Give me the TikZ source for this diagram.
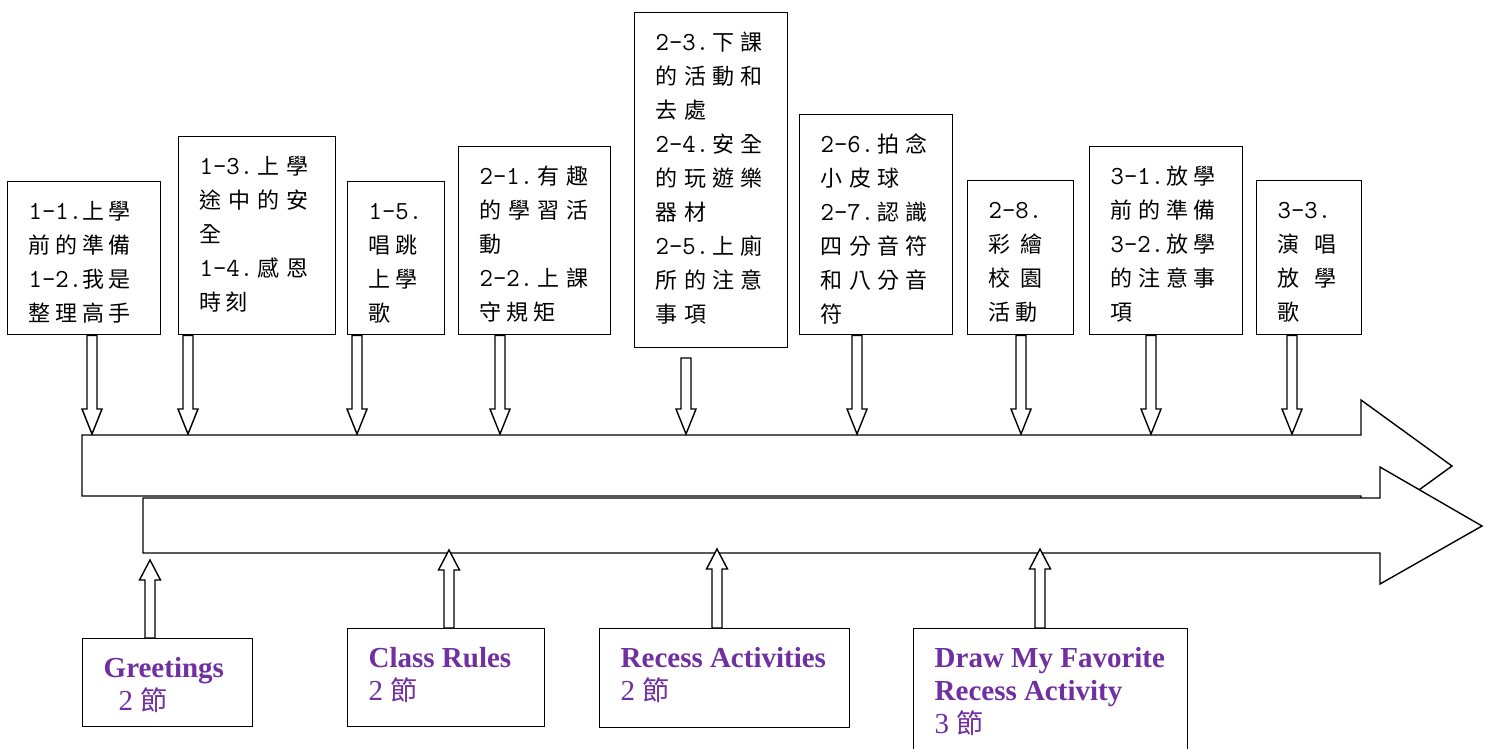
\documentclass[tikz,border=0pt]{standalone}
\usepackage{fontspec}
\setmainfont{Liberation Serif}
\newfontfamily\cjk{Noto Sans CJK TC}
\usetikzlibrary{calc}
\definecolor{ttlpurple}{RGB}{112,48,160}
\newlength\cjp
\makeatletter
\newcommand\cjl[1]{\@tfor\cjch:=#1\do{\makebox[\cjp][l]{\cjch}}}
\makeatother
\newcommand\pfx[1]{\makebox[2\cjp][l]{\ttfamily\fontsize{26}{34}\selectfont #1}}
\newcommand\cbox[3]{\parbox[c][#2][t]{#1}{\cjk\fontsize{22}{34}\selectfont\leftskip=21pt\relax\rule{0pt}{38pt}#3}}
\newcommand\ebox[3]{\parbox[c][#2][t]{#1}{\color{ttlpurple}\fontsize{29}{33}\selectfont\leftskip=21pt\relax\rule{0pt}{39pt}#3}}
\newcommand\jie{{\cjk\fontsize{27}{33}\selectfont 節}}
\newcommand\blockdown[2]{\draw[blk] let \p1=(#1), \p2=(#2) in
  (\x2-5pt,\y1) -- (\x2-5pt,\y2+25pt) -- (\x2-10pt,\y2+25pt) -- (\x2,\y2)
  -- (\x2+10pt,\y2+25pt) -- (\x2+5pt,\y2+25pt) -- (\x2+5pt,\y1) -- cycle;}
\newcommand\blockup[2]{\draw[blk] let \p1=(#1), \p2=(#2) in
  (\x2-5pt,\y1) -- (\x2-5pt,\y2-20pt) -- (\x2-10.5pt,\y2-20pt) -- (\x2,\y2)
  -- (\x2+10.5pt,\y2-20pt) -- (\x2+5pt,\y2-20pt) -- (\x2+5pt,\y1) -- cycle;}
\tikzset{
  box/.style={draw, line width=1.4pt, inner sep=0pt, anchor=north west, fill=white},
  blk/.style={draw, line width=1.4pt, fill=white, line join=miter}
}
\begin{document}
\begin{tikzpicture}[x=1pt,y=-1pt]
\useasboundingbox (0,0) rectangle (1491,749);
% big arrows
\draw[blk] (82,435) -- (1361,435) -- (1361,400) -- (1452,466) -- (1361,532) -- (1361,496) -- (82,496) -- cycle;
\draw[blk] (143,498) -- (1380,498) -- (1380,467) -- (1482,526) -- (1380,584) -- (1380,553) -- (143,553) -- cycle;
% top boxes
\node[box] (b1) at (7,181) {\cbox{153pt}{153pt}{\setlength\cjp{26.7pt}\pfx{1-1.}\cjl{上學}\\\cjl{前的準備}\\\pfx{1-2.}\cjl{我是}\\\cjl{整理高手}}};
\node[box] (b2) at (178,136) {\cbox{157pt}{198pt}{\setlength\cjp{28.9pt}\pfx{1-3.}\cjl{上學}\\\cjl{途中的安}\\\cjl{全}\\\pfx{1-4.}\cjl{感恩}\\\setlength\cjp{26pt}\cjl{時刻}}};
\node[box] (b3) at (347,181) {\cbox{97pt}{153pt}{\setlength\cjp{27pt}\pfx{1-5.}\\\cjl{唱跳}\\\cjl{上學}\\\cjl{歌}}};
\node[box] (b4) at (458,146) {\cbox{152pt}{188pt}{\setlength\cjp{28.9pt}\pfx{2-1.}\cjl{有趣}\\\cjl{的學習活}\\\cjl{動}\\\pfx{2-2.}\cjl{上課}\\\setlength\cjp{27pt}\cjl{守規矩}}};
\node[box] (b5) at (634,12) {\cbox{153pt}{335pt}{\setlength\cjp{28.3pt}\pfx{2-3.}\cjl{下課}\\\cjl{的活動和}\\\cjl{去處}\\\pfx{2-4.}\cjl{安全}\\\cjl{的玩遊樂}\\\cjl{器材}\\\pfx{2-5.}\cjl{上廁}\\\cjl{所的注意}\\\cjl{事項}}};
\node[box] (b6) at (799,114) {\cbox{153pt}{220pt}{\setlength\cjp{28.3pt}\pfx{2-6.}\cjl{拍念}\\\cjl{小皮球}\\\pfx{2-7.}\cjl{認識}\\\cjl{四分音符}\\\cjl{和八分音}\\\cjl{符}}};
\node[box] (b7) at (967,180) {\cbox{106pt}{154pt}{\setlength\cjp{25pt}\pfx{2-8.}\\\setlength\cjp{32pt}\cjl{彩繪}\\\cjl{校園}\\\setlength\cjp{27pt}\cjl{活動}}};
\node[box] (b8) at (1089,146) {\cbox{153pt}{188pt}{\setlength\cjp{27.7pt}\pfx{3-1.}\cjl{放學}\\\cjl{前的準備}\\\pfx{3-2.}\cjl{放學}\\\cjl{的注意事}\\\cjl{項}}};
\node[box] (b9) at (1256,180) {\cbox{105pt}{154pt}{\setlength\cjp{25pt}\pfx{3-3.}\\\setlength\cjp{37pt}\cjl{演唱}\\\cjl{放學}\\\cjl{歌}}};
% bottom boxes
\node[box] (g1) at (82,638) {\ebox{170pt}{88pt}{\textbf{Greetings}\\\hspace*{15pt}2 \jie}};
\node[box] (g2) at (347,628) {\ebox{197pt}{98pt}{\textbf{Class Rules}\\2 \jie}};
\node[box] (g3) at (599,628) {\ebox{250pt}{99pt}{\textbf{Recess Activities}\\2 \jie}};
\node[box] (g4) at (913,628) {\ebox{274pt}{140pt}{\textbf{Draw My Favorite}\\\textbf{Recess Activity}\\3 \jie}};
% arrow targets
\coordinate (d1) at (92,434);
\coordinate (d2) at (188,434);
\coordinate (d3) at (357,434);
\coordinate (d4) at (500,434);
\coordinate (s5) at (686,358);
\coordinate (d5) at (686,434);
\coordinate (d6) at (857,434);
\coordinate (d7) at (1021,434);
\coordinate (d8) at (1151,434);
\coordinate (d9) at (1292,434);
\coordinate (u1) at (150,560);
\coordinate (u2) at (449,550);
\coordinate (u3) at (717,549);
\coordinate (u4) at (1040,549);
% down arrows
\blockdown{b1.south -| d1}{d1}
\blockdown{b2.south -| d2}{d2}
\blockdown{b3.south -| d3}{d3}
\blockdown{b4.south -| d4}{d4}
\blockdown{s5}{d5}
\blockdown{b6.south -| d6}{d6}
\blockdown{b7.south -| d7}{d7}
\blockdown{b8.south -| d8}{d8}
\blockdown{b9.south -| d9}{d9}
% up arrows
\blockup{g1.north -| u1}{u1}
\blockup{g2.north -| u2}{u2}
\blockup{g3.north -| u3}{u3}
\blockup{g4.north -| u4}{u4}
\end{tikzpicture}
\end{document}
